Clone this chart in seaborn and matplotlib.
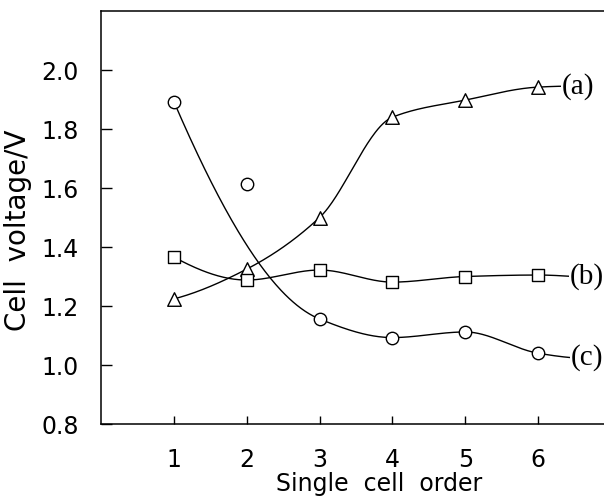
import numpy as np
import pandas as pd
import matplotlib
matplotlib.use("Agg")
import matplotlib.pyplot as plt
import seaborn as sns

# ---- data ----
order = [1, 2, 3, 4, 5, 6]
volt_a = [1.224, 1.325, 1.50, 1.84, 1.898, 1.942]   # triangles
volt_b = [1.366, 1.288, 1.322, 1.281, 1.300, 1.305]  # squares
volt_c = [1.893, 1.613, 1.156, 1.093, 1.112, 1.040]  # circles
# curve of (c) skips the second (outlier) point
c_curve_idx = [0, 2, 3, 4, 5]
# where the drawn curves end, next to the labels
end_x = [6.37, 6.48, 6.50]
end_y = [1.945, 1.300, 1.024]
series_labels = ["(a)", "(b)", "(c)"]
xticks = [1, 2, 3, 4, 5, 6]
yticks = [0.8, 1.0, 1.2, 1.4, 1.6, 1.8, 2.0]


def pchip(x, y, num=300):
    x = np.asarray(x, float)
    y = np.asarray(y, float)
    h = np.diff(x)
    d = np.diff(y) / h
    n = len(x)
    m = np.zeros(n)
    for k in range(1, n - 1):
        if d[k - 1] * d[k] <= 0:
            m[k] = 0.0
        else:
            w1 = 2 * h[k] + h[k - 1]
            w2 = h[k] + 2 * h[k - 1]
            m[k] = (w1 + w2) / (w1 / d[k - 1] + w2 / d[k])

    def edge(h0, h1, d0, d1):
        mm = ((2 * h0 + h1) * d0 - h0 * d1) / (h0 + h1)
        if np.sign(mm) != np.sign(d0):
            mm = 0.0
        elif np.sign(d0) != np.sign(d1) and abs(mm) > abs(3 * d0):
            mm = 3 * d0
        return mm

    m[0] = edge(h[0], h[1], d[0], d[1])
    m[-1] = edge(h[-1], h[-2], d[-1], d[-2])
    xs = np.linspace(x[0], x[-1], num)
    idx = np.clip(np.searchsorted(x, xs) - 1, 0, n - 2)
    t = (xs - x[idx]) / h[idx]
    h00 = 2 * t**3 - 3 * t**2 + 1
    h10 = t**3 - 2 * t**2 + t
    h01 = -2 * t**3 + 3 * t**2
    h11 = t**3 - t**2
    ys = (h00 * y[idx] + h10 * h[idx] * m[idx]
          + h01 * y[idx + 1] + h11 * h[idx] * m[idx + 1])
    return xs, ys


sns.set_theme(style="ticks")
plt.rcParams["font.family"] = ["DejaVu Sans"]
plt.rcParams["text.color"] = "black"
plt.rcParams["axes.labelcolor"] = "black"

fig = plt.figure(figsize=(6.04, 5.0), dpi=100)
ax = fig.add_axes([101 / 604, 76 / 500, 510 / 604, 413 / 500])

curves = []
for lab, xv, yv, ex, ey in [
    ("a", order, volt_a, end_x[0], end_y[0]),
    ("b", order, volt_b, end_x[1], end_y[1]),
    ("c", [order[i] for i in c_curve_idx], [volt_c[i] for i in c_curve_idx],
     end_x[2], end_y[2]),
]:
    xs, ys = pchip(list(xv) + [ex], list(yv) + [ey])
    curves.append(pd.DataFrame({"x": xs, "y": ys, "s": lab}))
curve_df = pd.concat(curves, ignore_index=True)

sns.lineplot(data=curve_df, x="x", y="y", units="s", estimator=None,
             sort=False, color="black", linewidth=1.0, ax=ax)

for vals, mk, ms in [(volt_a, "^", 95), (volt_b, "s", 70), (volt_c, "o", 80)]:
    sns.scatterplot(x=order, y=vals, marker=mk, s=ms, facecolor="white",
                    edgecolor="black", linewidth=1.0, ax=ax, zorder=5)

for lab, ex, ey in zip(series_labels, end_x, end_y):
    ax.text(ex - 0.05, ey, lab, fontsize=21, family="Liberation Serif",
            va="center", ha="left", color="black", clip_on=False,
            bbox=dict(facecolor="white", edgecolor="none", pad=0.5))

ax.set_xlim(0, 7)
ax.set_ylim(0.8, 2.2)
ax.set_xticks(xticks)
ax.set_xticklabels([str(v) for v in xticks])
ax.set_yticks(yticks)
ax.set_yticklabels([f"{v:.1f}" for v in yticks])
ax.tick_params(axis="y", direction="in", length=8, width=1, pad=16,
               labelsize=17, colors="black")
ax.tick_params(axis="x", direction="in", length=6, width=1, pad=17,
               labelsize=17, colors="black")
ax.set_xlabel("Single  cell  order", fontsize=17, color="black")
ax.xaxis.set_label_coords(0.545, -0.116)
ax.xaxis.label.set_va("top")
ax.set_ylabel("Cell  voltage/V", fontsize=20, labelpad=6, color="black")
ax.yaxis.set_label_coords(-0.135, 0.47)
for sp in ax.spines.values():
    sp.set_color("black")
    sp.set_linewidth(1.1)
ax.spines["right"].set_visible(False)
ax.grid(False)

fig.savefig("out.png", dpi=100, facecolor="white")
